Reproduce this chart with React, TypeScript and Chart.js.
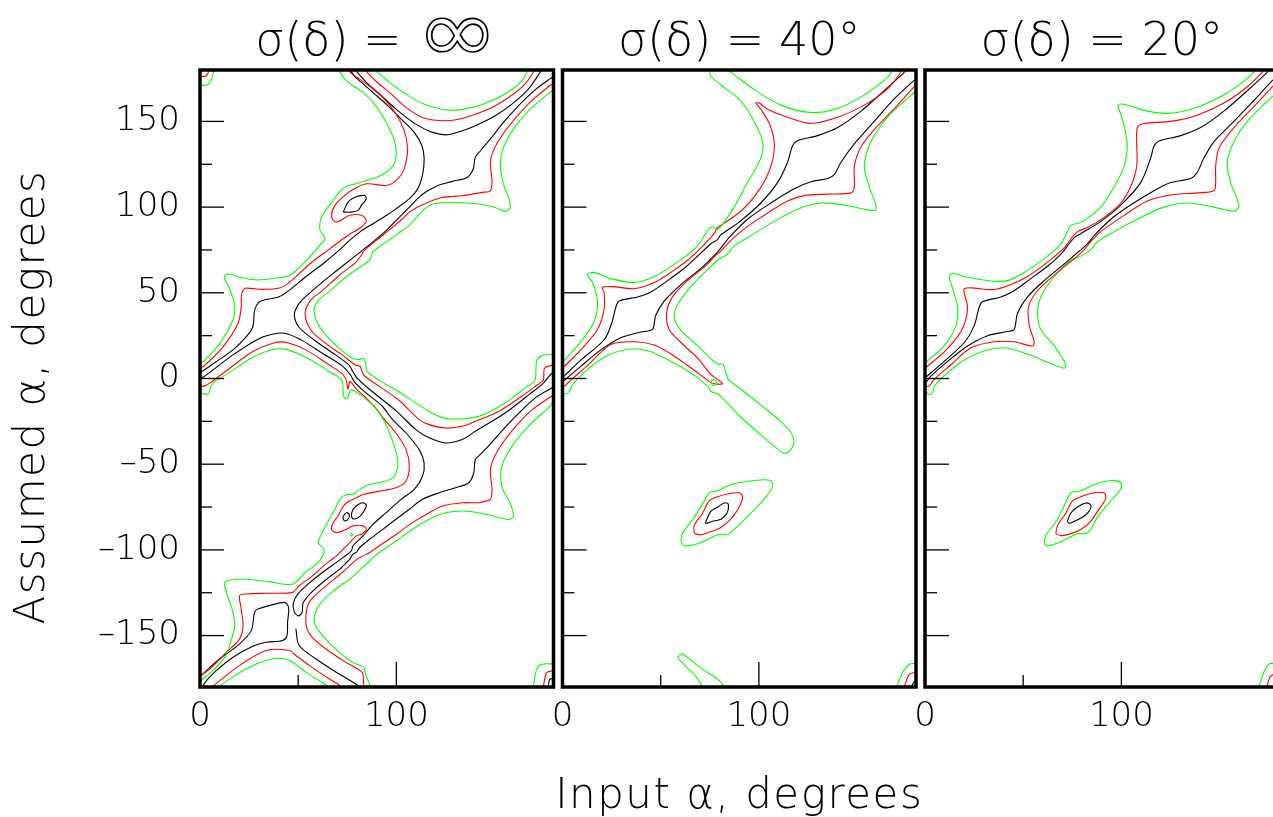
import React, { useEffect, useRef } from "react";
import { Chart, registerables } from "chart.js";
Chart.register(...registerables);

type Pt = [number, number];

// ---------- titles & labels ----------
const PANEL_TITLES = ["σ(δ) = ∞", "σ(δ) = 40°", "σ(δ) = 20°"];
const Y_TITLE = "Assumed α, degrees";
const X_TITLE = "Input α, degrees";
const X_RANGE: Pt = [0, 180];
const Y_RANGE: Pt = [-180, 180];
const X_TICK_STEP = 50;
const X_LABEL_EVERY = 100;
const Y_TICK_STEP = 25;
const Y_LABEL_EVERY = 50;

// ---------- panel 1 : sigma = infinity ----------
const P1_G_TL: Pt[] = [[0, 171], [4, 171.5], [6, 175], [7, 180]];
const P1_R_TL: Pt[] = [[0, 176], [3, 176.5], [4, 178], [4.5, 180]];
const P1_G_A: Pt[] = [[0, 9.5], [1.7, 9.9], [10.1, 20.5], [16.8, 34.1], [17.7, 41.9], [16.5, 48], [14.8, 53.1], [12.3, 59], [14, 61], [20.7, 59], [29.1, 57.5], [38, 58.5], [46, 60.4], [54.4, 69.1], [61.1, 77.8], [63.6, 81.6], [61.1, 86.5], [61.9, 94.2], [67.8, 103.9], [72, 110], [75.4, 112.6], [79.6, 113.6], [84.7, 115.5], [92, 118.5], [97.5, 123], [99.8, 129], [99, 138.7], [94.8, 149.4], [88.9, 160.1], [83, 166.9], [77.9, 170.8], [73.7, 174.7], [70.5, 180]];
const P1_R_A: Pt[] = [[0, 6.5], [1.7, 7], [11.8, 18.6], [19.4, 32.2], [21, 41.9], [21, 46.5], [21.5, 50.5], [23.2, 52.7], [31.6, 52], [40.9, 53], [46, 56.5], [56.1, 67.1], [66.2, 75.8], [75.4, 83.6], [82.2, 88.4], [84.7, 92.3], [82.2, 95.2], [76.3, 95.2], [69.5, 91.3], [67, 94.2], [68.7, 101], [73.7, 106.8], [77.1, 109.7], [84.7, 113.6], [94.8, 112.6], [99.8, 115.5], [103.5, 121], [105.2, 128], [105.7, 134.8], [104, 144.6], [99.8, 154.3], [93.9, 163], [87.2, 169.8], [81.3, 174.7], [77.9, 177.2], [75.5, 180]];
const P1_K_A: Pt[] = [[0, 3.3], [8.4, 9.9], [16.8, 16.7], [23.6, 24.4], [26.9, 30.2], [27.8, 39.9], [30, 44.5], [33, 46], [40, 47.5], [46, 52], [54, 59.5], [62.8, 67.1], [70, 74], [76.3, 80.7], [82, 86], [88.1, 90.3], [94, 94.5], [99.8, 99], [106.6, 104.9], [111, 111], [113.5, 120], [114.1, 129], [113, 135.8], [109.1, 143.6], [102.4, 151.4], [94.8, 160.1], [88, 166.9], [82.2, 172.8], [78.8, 176.1], [76.5, 180]];
const P1_K_ISLE_A: Pt[] = [[72.9, 97.1], [75.4, 102.9], [78.8, 105.8], [83.8, 106.8], [84.7, 104.9], [82.2, 101], [80.5, 98.1], [77.1, 97.1], [72.9, 97.1]];
const P1_G_V: Pt[] = [[89, 180], [96.5, 172.8], [104.9, 166], [113.3, 160.5], [126.8, 156.6], [138.6, 158.2], [150.3, 163], [160.4, 169.8], [165, 175.5], [167, 180]];
const P1_R_V: Pt[] = [[84, 180], [90, 173], [96.5, 166.9], [104.9, 158.2], [113.3, 152.3], [125.1, 150.4], [135.2, 152.3], [147, 157.2], [157.1, 164], [165.5, 171.8], [170.5, 180]];
const P1_K_V: Pt[] = [[79, 180], [84.7, 172.8], [91.4, 166], [99.8, 157.2], [109.9, 148.4], [118.4, 143.6], [125.9, 142.2], [133.5, 144.6], [140.3, 147.5], [150.3, 153.3], [158.8, 160.1], [167.2, 168.9], [174, 180]];
const P1_G_B: Pt[] = [[180, 168], [178.1, 166.9], [167.2, 156.2], [159.6, 145.5], [154.5, 134.8], [152.9, 125.1], [154.5, 113.4], [157.1, 105.6], [157.9, 99.8], [155.4, 97.5], [150.3, 99.8], [141.9, 101.8], [130.1, 102.7], [116.7, 101], [106.6, 89.4], [103.2, 86.5], [94.8, 79.7], [88.1, 73.9], [86.4, 69.1], [83, 66.2], [74.6, 59.4], [66, 51], [60.3, 45.7], [58.1, 39.9], [60.3, 31.2], [67.3, 21.5], [76.6, 12.4], [80.8, 10.9], [83.3, 11.8], [84.5, 7.9], [85, 4.1], [90.9, -0.8], [101, -7.6], [116.7, -19.2], [126, -23.5], [141.9, -22.1], [155.4, -14.3], [166, -5], [170.5, -1.4], [171.4, 10.3], [173.9, 13.2], [180, 14.2]];
const P1_R_B: Pt[] = [[180, 172], [178.1, 170.8], [168.9, 162.1], [158.8, 149.4], [152, 138.7], [148.7, 130.9], [147.8, 125.1], [148.7, 115.4], [147.8, 109.5], [143.6, 108.6], [133.5, 106.6], [123.4, 105.6], [113.3, 101.4], [106.6, 97.1], [103.2, 93.2], [93.1, 83.6], [83.8, 74.9], [82.2, 72], [79.6, 68.1], [71.2, 60.4], [62, 51], [56.4, 45.7], [53.5, 38], [56.4, 28.3], [64, 20.5], [72.4, 13.8], [79.1, 7.9], [81.6, 7], [82.5, 4.1], [83.7, 1.6], [90.9, -4.3], [101, -12.4], [111.6, -24], [116.7, -26.9], [125.1, -28.9], [133.5, -27.9], [140.2, -25], [152, -19.2], [163.8, -10.4], [172, -3.5], [174.8, -1], [175.5, 6], [180, 8]];
const P1_K_B: Pt[] = [[180, 176], [178, 174.7], [170.5, 168.3], [162.1, 159.1], [154.5, 149.4], [147.8, 139.7], [142.8, 132.9], [140.2, 129], [139.1, 122.2], [136, 117.3], [128.5, 115], [120.9, 112.5], [113.3, 107.5], [106.6, 100], [103.2, 96.1], [93.1, 84.5], [79.6, 72], [67.8, 61.3], [58, 52], [51.9, 45.7], [49, 41], [48, 37], [50.2, 30.2], [58.1, 22.5], [69, 13.8], [75.8, 7.9], [77.8, 4.1], [80, 0.2], [87, -7], [100, -19], [109.9, -29.8], [116.7, -34.6], [125.1, -37.6], [133.5, -35.6], [140.2, -30.8], [155.4, -20.1], [168, -9], [175, -2.5], [177.5, 1], [180, 4]];
const P1_G_C: Pt[] = [[0, -8.5], [4.2, -9.1], [5.4, -5], [7.6, -1.7], [15.2, 3.7], [26.9, 12.4], [37.9, 17.1], [44.6, 16.7], [55.6, 11.4], [65.7, 4.1], [72.1, -0.8], [73.2, -10.5], [74.9, -11.8], [76.6, -7], [79.1, -7.6], [85.9, -13.4], [91.5, -20.5], [95.5, -29], [99, -39.5], [100.7, -49.2], [99, -57], [94.8, -59.8], [86.4, -61.8], [81.3, -64.7], [77.9, -67.7], [74.6, -67.7], [71.2, -70.5], [68.7, -76.3], [66.2, -81.2], [62, -90.4], [60.3, -95.9], [63.3, -100.1], [60.3, -107.1], [53.5, -113.3], [47.1, -120], [35, -118.5], [20.2, -117], [12.6, -119], [13.5, -124.8], [16.8, -136.4], [17.7, -144.2], [16, -152], [13.1, -161.9], [7.2, -169.7], [1.3, -175.5], [0, -176.5]];
const P1_G_DOT: Pt[] = [[76.5, -91.3], [77.1, -90.6], [77.7, -91.3], [77.1, -92], [76.5, -91.3]];
const P1_R_C: Pt[] = [[0, -4.5], [2.5, -4.3], [5, -2.7], [15.2, 6], [26.9, 15.7], [37.9, 20.9], [44.6, 20.9], [53.9, 16.7], [64, 9.3], [72.4, 2.7], [74.4, -0.8], [75.3, -6.2], [76.3, -1.7], [77.4, -2.7], [79.1, -5.6], [84.2, -10.9], [90, -18], [94, -24], [99.8, -31.8], [104.9, -41.5], [106.6, -51.1], [104.9, -59.8], [99.8, -63.7], [91.4, -65.7], [83, -67.7], [79.6, -69.6], [74.6, -72.5], [72, -76.3], [70.3, -80.2], [67.8, -84.1], [67, -88], [69.5, -89.9], [74.6, -88], [77.9, -86], [83, -86], [84.7, -88], [82.2, -90.9], [79.6, -91.8], [76.3, -95.7], [72.9, -99.6], [69.5, -103.5], [66.2, -106.3], [62.8, -109.5], [56.1, -116.3], [50.5, -120.9], [47.1, -124.8], [35, -125.3], [23.6, -125.7], [20.2, -126.7], [21, -134.5], [21.9, -144.2], [20.2, -151.9], [13.5, -159.7], [5.1, -169.4], [0, -173.5]];
const P1_K_C: Pt[] = [[0, 0.8], [1.7, 0.8], [16.8, 13.8], [30.3, 23.4], [39.6, 26.4], [44.6, 26], [52.2, 22.1], [62.3, 14.7], [72.4, 7.4], [76.6, 2.1], [78.8, -2.3], [84.2, -8.1], [92.6, -15.9], [98.1, -24], [104.9, -31.8], [111.6, -41.5], [114.1, -49.2], [113.3, -57], [109.1, -64.7], [102.4, -70.5], [94.8, -78.3], [88.1, -85.1], [83, -91.8], [77.9, -97.6], [77.1, -100.5], [72.9, -104.4], [69.5, -107.3], [62, -113.5], [55, -120], [50, -125.5], [47.5, -131], [48, -136], [50, -138.5], [52, -136.5], [52.5, -131], [57, -124.5], [64, -117.5], [71.2, -111.2], [72.9, -109.3], [76.3, -105.4], [77.9, -102.5], [79.6, -101.5], [81.3, -98.6], [86.4, -93.8], [93.1, -88], [99.8, -82.1], [106.6, -76.3], [113.3, -70.5], [121.8, -66.7], [130.1, -63.7], [136.9, -60.8], [139.4, -55], [140.2, -47.3], [143, -44], [148, -38], [155, -29], [163, -19.5], [171, -11], [180, -5]];
const P1_K_ISLE_B: Pt[] = [[72.9, -80.2], [74.6, -78.3], [76, -79.3], [75.4, -82.1], [73.7, -83.1], [72.9, -81.8], [72.9, -80.2]];
const P1_K_ISLE_C: Pt[] = [[77.9, -76.3], [80.5, -73.5], [83, -72.5], [84.7, -74], [83, -78.3], [80.5, -81.2], [77.9, -81.8], [77.1, -79.3], [77.9, -76.3]];
const P1_R_D: Pt[] = [[180, -9.5], [168.9, -18.5], [158.8, -30.6], [152, -41.3], [148.7, -49.1], [147.8, -55], [148.7, -64.6], [147.8, -70.5], [143.6, -72], [141.9, -72.5], [133.5, -72.5], [123.5, -74.4], [116.7, -78.3], [108.2, -84.1], [99.8, -91], [91.4, -97.6], [86.4, -101.5], [83, -103.5], [80, -105.4], [72.4, -113.2], [62.3, -122.8], [55.6, -130.6], [53.9, -142.2], [56.4, -150], [64, -157.7], [74.1, -165.5], [82.5, -171.3], [83.3, -178.1], [83.5, -180]];
const P1_G_D: Pt[] = [[180, -13], [178.1, -16.2], [167.2, -27.9], [158.8, -39.6], [153.7, -51.2], [153.7, -62.9], [157.9, -72.6], [159.6, -80.4], [157.1, -82.3], [150, -80.5], [141.9, -78.3], [133.5, -77.3], [125.1, -78.3], [116.7, -82.1], [108.2, -88], [99.8, -94.8], [91.4, -101.5], [88.1, -104.4], [84, -109], [77.4, -116], [67.3, -124.5], [60.6, -132.5], [58.1, -140.3], [59.8, -146.1], [67.3, -155.8], [77.4, -165.5], [83.3, -168.4], [84.2, -172.3], [87, -180]];
const P1_K_S: Pt[] = [[48.8, -146], [50.5, -155.8], [58.9, -163.5], [70.7, -172.3], [79.1, -178.1], [81, -180]];
const P1_K_BOX: Pt[] = [[0, -174], [2.5, -171.3], [10.1, -163.5], [20.2, -154.8], [26.1, -147.1], [27.8, -136.4], [29.5, -134.5], [42.9, -130.6], [45.1, -133.5], [44.6, -142.2], [44.3, -150], [42.1, -152.9], [33.7, -153.9], [26.9, -156.2], [16.8, -162.6], [8.4, -170.3], [3.4, -176.1], [1, -180]];
const P1_G_BOT: Pt[] = [[9, -180], [23.6, -169.4], [37, -163.5], [45.5, -164.5], [53.9, -171.3], [64, -178.7], [65, -180]];
const P1_R_BOT: Pt[] = [[6, -180], [20.2, -167.4], [33.7, -158.7], [45.5, -158.7], [48.8, -161.6], [55.6, -167.4], [65.7, -175.2], [70.7, -178.7], [71.5, -180]];
const P1_G_BR: Pt[] = [[169.7, -180], [171.4, -169.7], [173.9, -166.8], [180, -166.5]];
const P1_R_BR: Pt[] = [[174.8, -180], [176.5, -171.6], [180, -170.5]];
const P1_K_BR: Pt[] = [[177.3, -180], [178.1, -175.5], [180, -175]];

// ---------- panel 2 : sigma = 40 deg ----------
const P2_G_A: Pt[] = [[0, 9.5], [9.3, 21.4], [16.1, 33.3], [17.8, 45.2], [15.3, 56], [12.7, 60.7], [16.1, 61.9], [24.6, 58.3], [36.5, 56], [46.7, 59.5], [58.6, 67.9], [68.8, 77.4], [73.9, 86.5], [76.5, 88.5], [79, 87], [81.5, 90], [87.4, 100], [94.2, 114.3], [101, 128.6], [101.9, 138.1], [97.6, 150], [90.8, 161.9], [80.6, 171.4], [75.6, 176.2], [74.7, 180]];
const P2_G_V: Pt[] = [[84, 180], [86, 178.5], [97.6, 168.6], [111.2, 159.5], [126.5, 155.2], [140.1, 157.6], [153.7, 165.5], [165.5, 175.7], [168.1, 180]];
const P2_G_B: Pt[] = [[180, 167.9], [165.5, 152.4], [157, 138.1], [153.7, 123.8], [156.2, 111.9], [159.6, 101.2], [159.1, 98.1], [153.7, 98.8], [143.5, 101.2], [131.6, 102.4], [119.7, 98.8], [106.1, 90.5], [95.9, 83.3], [87.4, 77.4], [84, 72.6], [78.9, 69], [75.6, 65.5], [65.4, 53.6], [58.6, 42.9], [56.9, 35.7], [60.3, 28.1], [68.8, 19], [77.2, 10], [79.3, 8.3], [81.8, 8.3], [83.2, 3.6], [84.4, -0.5], [90.8, -6.2], [101, -15.5], [111.2, -25.2], [116.6, -32.1], [117.7, -38.1], [114.6, -43.3], [112.1, -43.3], [102.7, -34.5], [90.8, -22.6], [81.5, -11.4], [78.9, -8.8], [75.6, -7.6], [74.2, -4.8], [73, -3.6], [67.1, 1.9], [55.2, 10], [43.3, 16.2], [33.1, 17.1], [21.2, 12.4], [11, 3.6], [5.1, -3.6], [3.4, -7.6], [1.7, -9], [0, -8.3]];
const P2_G_DOT: Pt[] = [[75.5, -2.5], [76.2, -1], [77.5, -0.7], [78.5, -2], [78, -3.6], [76.6, -4], [75.5, -2.5]];
const P2_R_A: Pt[] = [[0, 6], [9.3, 16.7], [17.8, 28.6], [21.2, 40.5], [21.2, 50], [20.4, 53.1], [25.5, 53.6], [36.5, 52.4], [46.7, 56], [55.2, 61.9], [63.7, 69], [70.5, 76.2], [77.2, 84.5], [78.9, 88.1], [82.3, 90.5], [90.8, 97.6], [97.6, 106], [103.6, 116.7], [107, 127.4], [107.8, 138.1], [105.3, 148.8], [101, 157.1], [98.5, 160.7], [100.2, 160.7], [104.4, 157.1], [114.6, 152.4], [126.5, 148.8], [140.1, 152.4], [153.7, 159.5], [165.5, 169], [171.5, 177.4], [172.4, 180]];
const P2_R_B: Pt[] = [[180, 171.4], [170.6, 159.5], [158.7, 145.2], [152, 135.2], [148.6, 123.8], [148.6, 111.9], [146.9, 108.3], [135, 107.6], [123.1, 106.7], [114.6, 103.6], [101, 94], [90.8, 85.7], [84, 78.6], [80.6, 74.3], [77.2, 71], [73.9, 66.7], [63.7, 57.1], [56, 47.6], [53, 38.1], [54.3, 28.6], [60.3, 21], [68.8, 11.9], [75.6, 2.4], [81.5, -2.9], [78.9, -3.3], [75.6, -2.4], [67.1, 4.8], [55.2, 14.3], [46.7, 19.5], [36.5, 21.4], [24.6, 19.8], [12.7, 7.5], [4.2, -1], [1.5, -4], [0, -5]];
const P2_K_A: Pt[] = [[0, 0.5], [9.3, 10.7], [21.2, 22.6], [25, 32.1], [27.2, 41.7], [28.9, 45.2], [38.2, 47.6], [45, 50.5], [53.5, 57.1], [62, 64.3], [68.8, 71.4], [75.6, 78.6], [78.9, 81], [80.6, 83.8], [89.1, 90.5], [101, 102.4], [109.5, 114.3], [114.6, 126.2], [117.1, 135.7], [119.7, 138.8], [129.9, 141.7], [140.1, 146.4], [152, 156], [163.8, 167.9], [174, 178.6], [174.9, 180]];
const P2_K_B: Pt[] = [[180, 175], [168.9, 163.1], [158.7, 150], [148.6, 136.9], [141.8, 126.2], [138.4, 119], [135, 116.7], [126.5, 114.8], [118, 110.7], [106.1, 102.4], [94.2, 92.9], [85.7, 83.3], [82.3, 78.6], [78.9, 73.8], [70.5, 64.3], [60.3, 54.8], [51.8, 45.2], [47.5, 36.9], [45.8, 28.6], [39.9, 27.1], [29.7, 23.8], [19.5, 16.7], [9.3, 7.1], [0.8, -1.2], [0, -1.8]];
const P2_K_ISLE: Pt[] = [[73, -83.3], [75.6, -77.4], [79, -75], [82.3, -72.6], [84.4, -73.3], [83.7, -78.6], [80.6, -82.1], [76.4, -83.3], [73, -84.5], [73, -83.3]];
const P2_R_ISLE: Pt[] = [[67.1, -90.5], [67.1, -85.7], [71.3, -78.6], [74.7, -71.4], [79, -69], [84, -67.4], [90, -66.7], [91.7, -69], [90, -75], [85.7, -82.1], [80.6, -86.9], [75.6, -89.3], [70.5, -91.2], [67.1, -90.5]];
const P2_G_ISLE: Pt[] = [[60.3, -95.2], [61.1, -90.5], [67.1, -81], [72.2, -71.4], [74.7, -66.7], [79, -65.5], [85.7, -61.9], [97.6, -59.5], [106.1, -59.5], [107, -63.1], [102.7, -70.2], [95.9, -78.6], [87.4, -88.1], [84, -91], [78.9, -91.2], [75.6, -92.9], [68.8, -96.4], [62, -97.6], [60.3, -95.2]];
const P2_G_BOT: Pt[] = [[71.3, -180], [67.9, -173.8], [62.8, -167.9], [58.9, -163.1], [59.4, -161.9], [61.1, -160.7], [70.5, -169], [79.8, -176.2], [82.5, -180]];
const P2_G_BR: Pt[] = [[170, -180], [170.6, -178.6], [173.2, -171.4], [176.6, -166.7], [180, -166.2]];
const P2_R_BR: Pt[] = [[174, -180], [176.6, -172.6], [180, -171.4]];
const P2_K_BR: Pt[] = [[177.4, -180], [180, -175.5]];

// ---------- panel 3 : sigma = 20 deg ----------
const P3_G_A: Pt[] = [[0, 9], [9.8, 19], [15.8, 31], [16.6, 41.7], [14.1, 52.4], [12.4, 59.5], [14.1, 61.4], [20, 59.5], [31.9, 57.1], [42, 57.1], [52.2, 63.1], [62.4, 71.4], [69.2, 78.6], [72.5, 85.7], [74.2, 89.3], [77.6, 90.5], [81, 92.1], [89.5, 100], [96.3, 111.9], [101.4, 123.8], [103, 135.7], [101.4, 147.6], [98.8, 157.1], [98.3, 159.5], [101.4, 160], [113.2, 156], [125.1, 154.8], [138.6, 158.3], [152.2, 165.5], [164.1, 175], [168.3, 180]];
const P3_R_A: Pt[] = [[0, 6], [9.8, 15.5], [18.3, 27.4], [21.7, 40.5], [20, 50], [20, 52.4], [23.4, 52.9], [35.3, 51.9], [43.7, 54.8], [52.2, 59.5], [62.4, 67.9], [70.8, 76.2], [75.9, 83.8], [78.5, 86.2], [82.7, 88.1], [91.2, 94], [99.7, 102.4], [104.7, 111.9], [107.8, 123.8], [107.8, 138.1], [108.1, 146.4], [111.5, 148.8], [125.1, 150], [138.6, 153.6], [152.2, 160.7], [164.1, 170.2], [171.7, 178.6], [172.5, 180]];
const P3_K_A: Pt[] = [[0, 0.3], [9.8, 10], [20, 21], [25.1, 31], [27.6, 41.7], [29.3, 44.8], [38.6, 47.6], [45.4, 51.2], [53.9, 58.3], [62.4, 65.5], [69.2, 72.6], [74.2, 79.8], [76.8, 82.9], [79.3, 84.5], [89.5, 91.7], [99.7, 101.2], [109.8, 114.3], [114.9, 128.6], [116.6, 135.7], [119.2, 138.6], [130.2, 141.7], [140.3, 146.4], [152.2, 156], [164.1, 167.9], [174.2, 178.6], [175, 180]];
const P3_K_B: Pt[] = [[180, 176.5], [176.8, 173.8], [169.2, 164.3], [157.3, 150], [147.1, 138.1], [142, 128.6], [138.6, 120.2], [135.3, 116.7], [125.1, 114.3], [116.6, 109.5], [104.7, 101.2], [94.6, 92.9], [86.1, 83.3], [82.7, 78.6], [79.3, 75], [70.8, 66.7], [60.7, 57.1], [52.2, 47.6], [47.1, 38.1], [45.4, 28.6], [42, 27.4], [31.9, 25], [21.7, 19], [11.5, 10], [3.1, 1.5], [1, -1.5], [0, -2]];
const P3_R_B: Pt[] = [[180, 173], [176.8, 170.2], [169.2, 160.7], [157.3, 146.4], [149.7, 134.5], [148, 123.8], [148, 114.3], [147.1, 109.5], [138.6, 108.3], [125.1, 107.1], [113.2, 103.6], [101.4, 95.2], [89.5, 85.7], [84.4, 79.8], [81, 75], [77.6, 71.4], [67.5, 61.9], [57.3, 51.2], [52.7, 41.7], [53.1, 31], [55.6, 21.4], [54.7, 19], [45.4, 21.4], [35.3, 21.4], [23.4, 17.9], [13.2, 8], [4.7, -0.5], [2.2, -4.3], [0, -5]];
const P3_G_B: Pt[] = [[180, 167], [176.6, 164.3], [164.1, 150], [157.3, 138.1], [153.9, 126.2], [155.6, 114.3], [159, 104.8], [159.8, 100], [157.3, 97.6], [147.1, 100], [133.6, 102.4], [121.7, 100], [109.8, 94], [96.3, 85.7], [87.8, 79.8], [84.4, 75], [79.3, 71.4], [74.2, 69], [65.8, 59.5], [59, 47.6], [57.3, 38.1], [59, 28.6], [65.8, 19], [71.7, 8.3], [70.8, 6], [62.4, 9.5], [52.2, 14.3], [40.3, 17.9], [28.5, 15.5], [18.3, 9.5], [8.1, 0], [4.7, -4.8], [3.9, -8.3], [2.2, -9.5], [1, -8.3], [0, -8]];
const P3_K_ISLE: Pt[] = [[72.5, -83.3], [74.2, -78.6], [77.6, -75], [81.9, -72.6], [84.4, -73.8], [83.6, -77.4], [80.2, -81], [76, -83.3], [73.4, -84.5], [72.5, -83.3]];
const P3_R_ISLE: Pt[] = [[66.6, -90.5], [67.5, -85.7], [71.7, -78.6], [75.1, -71.4], [79.3, -69], [86.1, -66.7], [91.2, -66.7], [92, -70.2], [88.6, -76.2], [84.4, -83.3], [79.3, -88.1], [74.2, -90.5], [69.2, -91.7], [66.6, -90.5]];
const P3_G_ISLE: Pt[] = [[60.7, -96.4], [61.5, -91.7], [67.5, -82.1], [72.5, -70.2], [74.2, -66.7], [79.3, -65.5], [86.1, -61.9], [94.6, -59.5], [99.7, -60.7], [99.7, -64.3], [94.6, -71.4], [87.8, -81], [84.4, -88.1], [81.9, -90.5], [77.6, -90.5], [69.2, -95.2], [62.4, -97.6], [60.7, -96.4]];
const P3_G_BR: Pt[] = [[170, -180], [172.5, -171.4], [175.1, -166.7], [176.8, -166.2], [180, -166]];
const P3_R_BR: Pt[] = [[174, -180], [175.9, -173.8], [180, -171.5]];

// ---------- styling ----------
const GREEN = "#00ff00";
const RED = "#ff0000";
const BLACK = "#000000";
const FONT = "'DejaVu Sans', sans-serif";
const CANVAS_W = 1300;
const CANVAS_H = 817;
const PLOT_TOP = 70;
const PLOT_BOTTOM = 687;
const PANEL_LEFTS = [200, 562.5, 925];
const PANEL_W = 353.5;
const Y_AXIS_BOX = 195;
const X_AXIS_BOX = 100;

type Contour = { color: string; pts: Pt[] };
const PANELS: Contour[][] = [
  [
    { color: GREEN, pts: P1_G_TL }, { color: RED, pts: P1_R_TL },
    { color: GREEN, pts: P1_G_A }, { color: RED, pts: P1_R_A }, { color: BLACK, pts: P1_K_A }, { color: BLACK, pts: P1_K_ISLE_A },
    { color: GREEN, pts: P1_G_V }, { color: RED, pts: P1_R_V }, { color: BLACK, pts: P1_K_V },
    { color: GREEN, pts: P1_G_B }, { color: RED, pts: P1_R_B }, { color: BLACK, pts: P1_K_B },
    { color: GREEN, pts: P1_G_C }, { color: GREEN, pts: P1_G_DOT }, { color: RED, pts: P1_R_C }, { color: BLACK, pts: P1_K_C },
    { color: BLACK, pts: P1_K_ISLE_B }, { color: BLACK, pts: P1_K_ISLE_C },
    { color: RED, pts: P1_R_D }, { color: GREEN, pts: P1_G_D }, { color: BLACK, pts: P1_K_S }, { color: BLACK, pts: P1_K_BOX },
    { color: GREEN, pts: P1_G_BOT }, { color: RED, pts: P1_R_BOT },
    { color: GREEN, pts: P1_G_BR }, { color: RED, pts: P1_R_BR }, { color: BLACK, pts: P1_K_BR },
  ],
  [
    { color: GREEN, pts: P2_G_A }, { color: GREEN, pts: P2_G_V }, { color: GREEN, pts: P2_G_B }, { color: GREEN, pts: P2_G_DOT },
    { color: RED, pts: P2_R_A }, { color: RED, pts: P2_R_B },
    { color: BLACK, pts: P2_K_A }, { color: BLACK, pts: P2_K_B },
    { color: GREEN, pts: P2_G_ISLE }, { color: RED, pts: P2_R_ISLE }, { color: BLACK, pts: P2_K_ISLE },
    { color: GREEN, pts: P2_G_BOT },
    { color: GREEN, pts: P2_G_BR }, { color: RED, pts: P2_R_BR }, { color: BLACK, pts: P2_K_BR },
  ],
  [
    { color: GREEN, pts: P3_G_A }, { color: RED, pts: P3_R_A }, { color: BLACK, pts: P3_K_A },
    { color: BLACK, pts: P3_K_B }, { color: RED, pts: P3_R_B }, { color: GREEN, pts: P3_G_B },
    { color: GREEN, pts: P3_G_ISLE }, { color: RED, pts: P3_R_ISLE }, { color: BLACK, pts: P3_K_ISLE },
    { color: GREEN, pts: P3_G_BR }, { color: RED, pts: P3_R_BR },
  ],
];

function fmtNum(v: number): string {
  return v < 0 ? "\u2013" + Math.abs(v) : String(v);
}

function drawTitle(ctx: CanvasRenderingContext2D, text: string, cx: number, baseline: number) {
  ctx.textBaseline = "alphabetic";
  if (text.endsWith("∞")) {
    // the infinity sign is drawn as an outlined, wider glyph
    const head = text.slice(0, -1);
    ctx.font = `200 46px ${FONT}`;
    const wHead = ctx.measureText(head).width;
    const infW = 82;
    const total = wHead + infW;
    const x0 = cx - total / 2;
    ctx.textAlign = "left";
    ctx.fillText(head, x0, baseline);
    ctx.save();
    ctx.font = `normal 62px ${FONT}`;
    const wInf = ctx.measureText("∞").width;
    ctx.translate(x0 + wHead, baseline + 7);
    ctx.scale(infW / wInf, 1.45);
    ctx.lineWidth = 1.1;
    ctx.strokeStyle = "#000";
    ctx.strokeText("∞", 0, 0);
    ctx.restore();
  } else {
    ctx.font = `200 46px ${FONT}`;
    ctx.textAlign = "center";
    ctx.fillText(text, cx, baseline);
  }
}

function buildConfig(panel: number): any {
  const left = PANEL_LEFTS[panel];
  const datasets = PANELS[panel].map((c) => ({
    data: c.pts.map(([x, y]) => ({ x, y })),
    borderColor: c.color,
    backgroundColor: c.color,
    borderWidth: 1.1,
    pointRadius: 0,
    showLine: true,
    fill: false,
    tension: 0.3,
  }));
  const tickFont = { family: FONT, size: 34, weight: "200" };
  const framePlugin = {
    id: "frame" + panel,
    afterDatasetsDraw(chart: any) {
      const { ctx, chartArea: a, scales } = chart;
      ctx.save();
      ctx.strokeStyle = "#000";
      ctx.lineWidth = 1.3;
      for (const t of scales.y.ticks) {
        const v = t.value;
        if (Math.abs(v) >= 180) continue;
        const py = scales.y.getPixelForValue(v);
        const len = v % Y_LABEL_EVERY === 0 ? 24 : 12;
        ctx.beginPath();
        ctx.moveTo(a.left, py);
        ctx.lineTo(a.left + len, py);
        ctx.stroke();
      }
      for (const t of scales.x.ticks) {
        const v = t.value;
        if (v <= 0 || v >= 180) continue;
        const px = scales.x.getPixelForValue(v);
        const len = v % X_LABEL_EVERY === 0 ? 25 : 12;
        ctx.beginPath();
        ctx.moveTo(px, a.bottom);
        ctx.lineTo(px, a.bottom - len);
        ctx.stroke();
      }
      ctx.lineWidth = 3.5;
      ctx.strokeRect(a.left, a.top, a.right - a.left, a.bottom - a.top);
      ctx.restore();
    },
    afterDraw(chart: any) {
      const { ctx, chartArea: a } = chart;
      ctx.save();
      ctx.fillStyle = "#000";
      drawTitle(ctx, PANEL_TITLES[panel], (a.left + a.right) / 2, 55);
      ctx.textAlign = "center";
      ctx.textBaseline = "alphabetic";
      ctx.font = `200 42px ${FONT}`;
      try { (ctx as any).letterSpacing = "1.5px"; } catch (e) {}
      if (panel === 1) {
        ctx.fillText(X_TITLE, (a.left + a.right) / 2, 808);
      }
      if (panel === 0) {
        ctx.translate(44, 397);
        ctx.rotate(-Math.PI / 2);
        ctx.fillText(Y_TITLE, 0, 0);
      }
      ctx.restore();
    },
  };
  return {
    type: "scatter",
    data: { datasets },
    options: {
      animation: false,
      responsive: false,
      maintainAspectRatio: false,
      events: [],
      layout: {
        padding: {
          left: left - Y_AXIS_BOX,
          right: CANVAS_W - (left + PANEL_W),
          top: PLOT_TOP,
          bottom: CANVAS_H - PLOT_BOTTOM - X_AXIS_BOX,
        },
      },
      plugins: { legend: { display: false }, tooltip: { enabled: false }, title: { display: false } },
      scales: {
        x: {
          type: "linear",
          min: X_RANGE[0],
          max: X_RANGE[1],
          afterFit: (s: any) => { s.height = X_AXIS_BOX; },
          grid: { display: false, drawTicks: false },
          border: { display: false },
          ticks: {
            stepSize: X_TICK_STEP,
            autoSkip: false,
            maxRotation: 0,
            padding: 10,
            color: "#000",
            font: tickFont,
            callback: (v: number) => (v % X_LABEL_EVERY === 0 ? fmtNum(v) : ""),
          },
        },
        y: {
          type: "linear",
          min: Y_RANGE[0],
          max: Y_RANGE[1],
          afterFit: (s: any) => { s.width = Y_AXIS_BOX; },
          grid: { display: false, drawTicks: false },
          border: { display: false },
          ticks: {
            stepSize: Y_TICK_STEP,
            autoSkip: false,
            padding: 20,
            color: "#000",
            font: tickFont,
            callback: (v: number) => (panel === 0 && v % Y_LABEL_EVERY === 0 ? fmtNum(v) : ""),
          },
        },
      },
    },
    plugins: [framePlugin],
  };
}

export default function App() {
  const r0 = useRef<HTMLCanvasElement>(null);
  const r1 = useRef<HTMLCanvasElement>(null);
  const r2 = useRef<HTMLCanvasElement>(null);
  useEffect(() => {
    const canvases = [r0.current, r1.current, r2.current];
    const charts = canvases.map((c, i) => new Chart(c as HTMLCanvasElement, buildConfig(i)));
    return () => charts.forEach((c) => c.destroy());
  }, []);
  const cs: React.CSSProperties = { position: "absolute", left: 0, top: 0, width: CANVAS_W, height: CANVAS_H };
  return (
    <div style={{ position: "absolute", left: 0, top: 0, width: 1273, height: 817, overflow: "hidden", background: "#fff" }}>
      <canvas ref={r0} width={CANVAS_W} height={CANVAS_H} style={cs} />
      <canvas ref={r1} width={CANVAS_W} height={CANVAS_H} style={cs} />
      <canvas ref={r2} width={CANVAS_W} height={CANVAS_H} style={cs} />
    </div>
  );
}
